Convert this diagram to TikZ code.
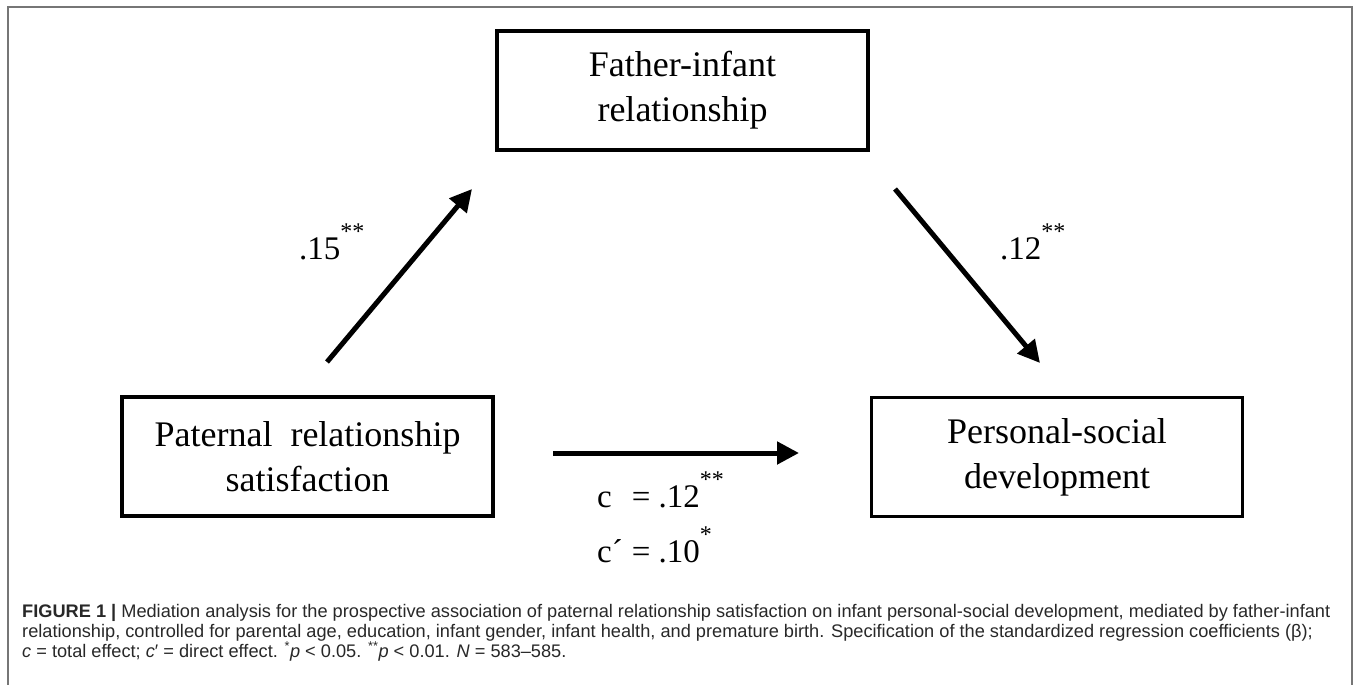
\documentclass[tikz,border=0pt]{standalone}
\usepackage{fontspec}
\setmainfont{Liberation Serif}
\newfontfamily\capfont{Liberation Sans}
\usetikzlibrary{arrows.meta}

\definecolor{framegray}{RGB}{118,118,118}
\definecolor{captext}{RGB}{40,40,40}

\newcommand{\sig}[1]{\smash{\raisebox{20pt}{\fontsize{24}{24}\selectfont #1}}}

\tikzset{
  var/.style={draw, line width=3.5pt, minimum width=371pt, minimum height=119pt,
    align=center, inner sep=0pt, font=\fontsize{36}{45}\selectfont},
  coef/.style={anchor=base west, inner sep=0pt, font=\fontsize{33}{36}\selectfont},
  effect/.style={line width=5pt, -{Triangle[length=22pt,width=22pt]}}
}

\begin{document}
\begin{tikzpicture}[x=1pt, y=-1pt]
    \useasboundingbox (0,0) rectangle (1360,685);
    \draw [framegray, line width=2pt] (8,686) -- (8,7) -- (1352,7) -- (1352,686);

    % Nodes {fi, prs, psd}
    \node [var] (fi)  at (682.5,90.5) {Father-infant\\relationship};
    \node [var] (prs) at (307.5,456.5) {Paternal\ \ relationship\\satisfaction};
    \node [var] (psd) at (1057,457) {Personal-social\\development};

    % Arrow ends
    \coordinate (a1s) at (327,362);
    \coordinate (a1e) at (472,189);
    \coordinate (a2s) at (895,189);
    \coordinate (a2e) at (1040,363);
    \coordinate (a3s) at (553,453);
    \coordinate (a3e) at (799,453);

    % Paths
    \path [effect] (a1s) edge (a1e);
    \path [effect] (a2s) edge (a2e);
    \path [effect] (a3s) edge (a3e);

    % Coefficients
    \node [coef] (b1) at (299,259) {.15\sig{**}};
    \node [coef] (b2) at (1000,259) {.12\sig{**}};
    \node [coef] (b3) at (597,507) {\begin{tabular}[t]{@{}l@{\hspace{9pt}}l@{}}
        c & = .12\sig{**}\\[19pt]
        c´ & = .10\sig{*}
      \end{tabular}};

    % Caption (base of the last line)
    \node [anchor=base west, inner sep=0pt, align=left, text=captext,
      font=\capfont\fontsize{18.2}{20}\selectfont] (cap) at (22,657)
      {\textbf{FIGURE 1 |} Mediation analysis for the prospective association of paternal relationship satisfaction on infant personal-social development, mediated by father-infant\\
       relationship, controlled for parental age, education, infant gender, infant health, and premature birth. Specification of the standardized regression coefficients (β);\\
       \textit{c} = total effect; \textit{c}′ = direct effect. \textsuperscript{*}\textit{p} < 0.05. \textsuperscript{**}\textit{p} < 0.01. \textit{N} = 583–585.};
\end{tikzpicture}
\end{document}
